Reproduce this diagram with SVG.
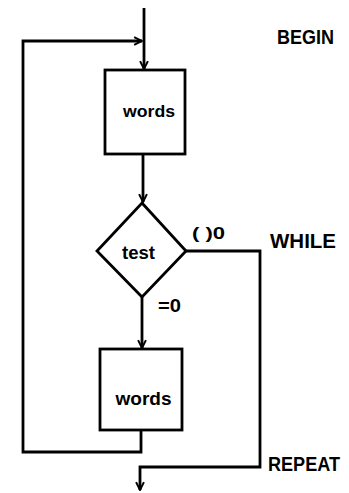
<svg xmlns="http://www.w3.org/2000/svg" width="349" height="493" viewBox="0 0 349 493">
<style>
.ln{fill:none;stroke:#000;stroke-width:2.8;stroke-linejoin:miter}
.nd{fill:#fff;stroke:#000;stroke-width:2.8}
.t{font-family:"Liberation Sans",Arial,sans-serif;font-weight:bold;fill:#000}
</style>
<defs>
<marker id="ah" viewBox="0 0 10 10" refX="9" refY="5" markerWidth="3.5" markerHeight="3.5" orient="auto" markerUnits="strokeWidth">
<path d="M1,1 L9,5 L1,9" fill="none" stroke="#000" stroke-width="2"/>
</marker>
</defs>
<g id="connectors">
<path class="ln" d="M144,8 V69" marker-end="url(#ah)"/>
<path class="ln" d="M141,430 V452 H23 V41 H142" marker-end="url(#ah)"/>
<path class="ln" d="M143,154 V202" marker-end="url(#ah)"/>
<path class="ln" d="M142,297 V348" marker-end="url(#ah)"/>
<path class="ln" d="M186,251 H260 V467 H140 V490" marker-end="url(#ah)"/>
</g>
<g id="box1"><rect class="nd" x="105" y="70" width="80" height="84"/><text class="t" x="149" y="117" font-size="17" text-anchor="middle" textLength="52" lengthAdjust="spacingAndGlyphs">words</text></g>
<g id="test"><path class="nd" d="M142,203 L186,251 L142,297 L97,251 Z"/><text class="t" x="138.5" y="259" font-size="18" text-anchor="middle" textLength="33" lengthAdjust="spacingAndGlyphs">test</text></g>
<g id="box2"><rect class="nd" x="100" y="349" width="82" height="81"/><text class="t" x="143.5" y="405" font-size="18" text-anchor="middle" textLength="56" lengthAdjust="spacingAndGlyphs">words</text></g>
<g id="labels">
<text class="t" x="192" y="239" font-size="16" textLength="33" lengthAdjust="spacingAndGlyphs">( )0</text>
<text class="t" x="158" y="312" font-size="18" textLength="23" lengthAdjust="spacingAndGlyphs">=0</text>
<text class="t" x="277" y="44" font-size="21" textLength="57" lengthAdjust="spacingAndGlyphs">BEGIN</text>
<text class="t" x="270" y="248" font-size="20" textLength="66" lengthAdjust="spacingAndGlyphs">WHILE</text>
<text class="t" x="268" y="471" font-size="20" textLength="72" lengthAdjust="spacingAndGlyphs">REPEAT</text>
</g>
</svg>
